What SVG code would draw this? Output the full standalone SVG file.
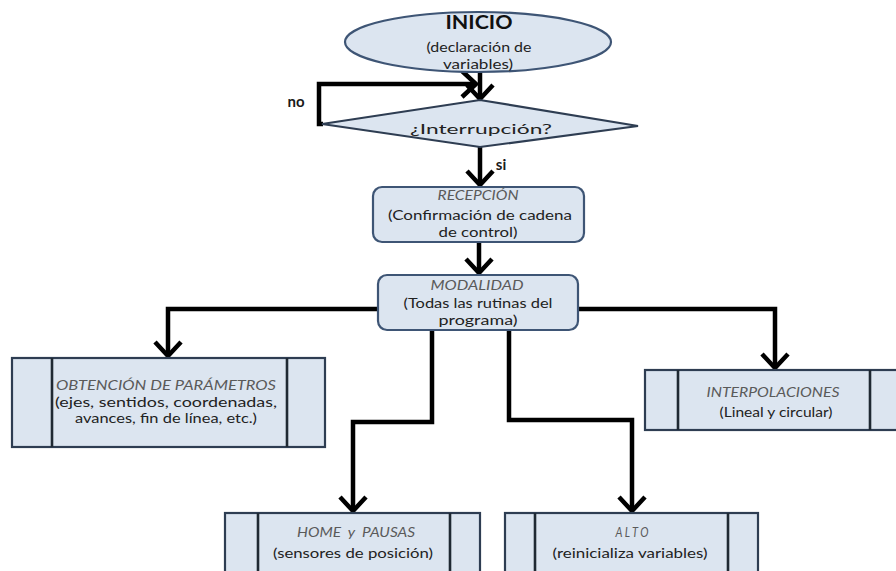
<svg xmlns="http://www.w3.org/2000/svg" width="896" height="571" viewBox="0 0 896 571">
  <style>
    .shape { fill: #dce5f0; stroke: #2e3d52; stroke-width: 2.2; }
    .rounded { fill: #dce5f0; stroke: #3e5575; stroke-width: 2.2; }
    .bar { fill: none; stroke: #1f2933; stroke-width: 2.6; }
    .wire { fill: none; stroke: #000; stroke-width: 4.5; stroke-linejoin: miter; }
    text { font-family: Lato, "Open Sans", "Liberation Sans", sans-serif; text-anchor: middle; }
    .title { font-style: italic; font-size: 13px; fill: #5a5a5a; }
    .body { font-size: 14px; fill: #222222; }
    .label { font-size: 15px; font-weight: bold; fill: #1a1a1a; }
  </style>
  <defs>
    <marker id="arrow" markerUnits="userSpaceOnUse" markerWidth="34" markerHeight="34" viewBox="-18 -17 22 34" refX="0" refY="0" orient="auto" overflow="visible">
      <path d="M -14 -13 L 0 0 L -14 13" fill="none" stroke="#000" stroke-width="4.5"/>
    </marker>
  </defs>
  <rect width="896" height="571" fill="#ffffff"/>

  <!-- connectors -->
  <g id="connectors">
    <path class="wire" d="M 480 72 V 99" marker-end="url(#arrow)"/>
    <path class="wire" d="M 323 124 H 319 V 84 H 476" marker-end="url(#arrow)"/>
    <path class="wire" d="M 480 147 V 185" marker-end="url(#arrow)"/>
    <path class="wire" d="M 479 242 V 273" marker-end="url(#arrow)"/>
    <path class="wire" d="M 378 309 H 168 V 356" marker-end="url(#arrow)"/>
    <path class="wire" d="M 578 309 H 775 V 368" marker-end="url(#arrow)"/>
    <path class="wire" d="M 432 330 V 422 H 353 V 511" marker-end="url(#arrow)"/>
    <path class="wire" d="M 509 330 V 420 H 632 V 511" marker-end="url(#arrow)"/>
    <text class="label" x="296" y="107">no</text>
    <text class="label" x="501" y="170">si</text>
  </g>

  <!-- start -->
  <g id="inicio">
    <ellipse class="rounded" cx="478" cy="42" rx="133" ry="30"/>
    <text x="479" y="29" font-size="18" font-weight="bold" fill="#111" textLength="67" lengthAdjust="spacingAndGlyphs">INICIO</text>
    <text class="body" x="479" y="52" font-size="13" textLength="105" lengthAdjust="spacingAndGlyphs">(declaración de</text>
    <text class="body" x="478" y="69" font-size="13" textLength="70" lengthAdjust="spacingAndGlyphs">variables)</text>
  </g>

  <!-- decision -->
  <g id="interrupcion">
    <polygon class="shape" points="322,124 480,100 638,126 480,147"/>
    <text class="body" x="481" y="134" font-size="17" textLength="142" lengthAdjust="spacingAndGlyphs">¿Interrupción?</text>
  </g>

  <g id="recepcion">
    <rect class="rounded" x="373" y="187" width="211" height="55" rx="9"/>
    <text class="title" x="478" y="200" font-size="12" textLength="81" lengthAdjust="spacingAndGlyphs">RECEPCIÓN</text>
    <text class="body" x="480" y="220" textLength="184" lengthAdjust="spacingAndGlyphs">(Confirmación de cadena</text>
    <text class="body" x="478" y="237" textLength="79" lengthAdjust="spacingAndGlyphs">de control)</text>
  </g>

  <g id="modalidad">
    <rect class="rounded" x="378" y="275" width="200" height="55" rx="9"/>
    <text class="title" x="477" y="290" textLength="93" lengthAdjust="spacingAndGlyphs">MODALIDAD</text>
    <text class="body" x="478" y="308" textLength="149" lengthAdjust="spacingAndGlyphs">(Todas las rutinas del</text>
    <text class="body" x="478" y="325" textLength="79" lengthAdjust="spacingAndGlyphs">programa)</text>
  </g>

  <g id="parametros">
    <rect class="shape" x="12" y="358" width="313" height="89"/>
    <line class="bar" x1="52" y1="358" x2="52" y2="447"/>
    <line class="bar" x1="287" y1="358" x2="287" y2="447"/>
    <text class="title" x="166" y="390" textLength="220" lengthAdjust="spacingAndGlyphs">OBTENCIÓN DE PARÁMETROS</text>
    <text class="body" x="166" y="407" textLength="222" lengthAdjust="spacingAndGlyphs">(ejes, sentidos, coordenadas,</text>
    <text class="body" x="166" y="423" textLength="182" lengthAdjust="spacingAndGlyphs">avances, fin de línea, etc.)</text>
  </g>

  <g id="interpolaciones">
    <rect class="shape" x="645" y="370" width="262" height="60"/>
    <line class="bar" x1="678" y1="370" x2="678" y2="430"/>
    <line class="bar" x1="870" y1="370" x2="870" y2="430"/>
    <text class="title" x="773" y="397" textLength="133" lengthAdjust="spacingAndGlyphs">INTERPOLACIONES</text>
    <text class="body" x="776" y="417" textLength="113" lengthAdjust="spacingAndGlyphs">(Lineal y circular)</text>
  </g>

  <g id="home">
    <rect class="shape" x="225" y="513" width="255" height="70"/>
    <line class="bar" x1="258" y1="513" x2="258" y2="583"/>
    <line class="bar" x1="450" y1="513" x2="450" y2="583"/>
    <text class="title" x="356" y="537" textLength="118" lengthAdjust="spacingAndGlyphs" xml:space="preserve">HOME  y  PAUSAS</text>
    <text class="body" x="353" y="558" textLength="160" lengthAdjust="spacingAndGlyphs">(sensores de posición)</text>
  </g>

  <g id="alto">
    <rect class="shape" x="505" y="513" width="253" height="70"/>
    <line class="bar" x1="535" y1="513" x2="535" y2="583"/>
    <line class="bar" x1="728" y1="513" x2="728" y2="583"/>
    <text class="title" x="632" y="537" textLength="33" lengthAdjust="spacingAndGlyphs">A L T O</text>
    <text class="body" x="630" y="558" textLength="155" lengthAdjust="spacingAndGlyphs">(reinicializa variables)</text>
  </g>
</svg>
